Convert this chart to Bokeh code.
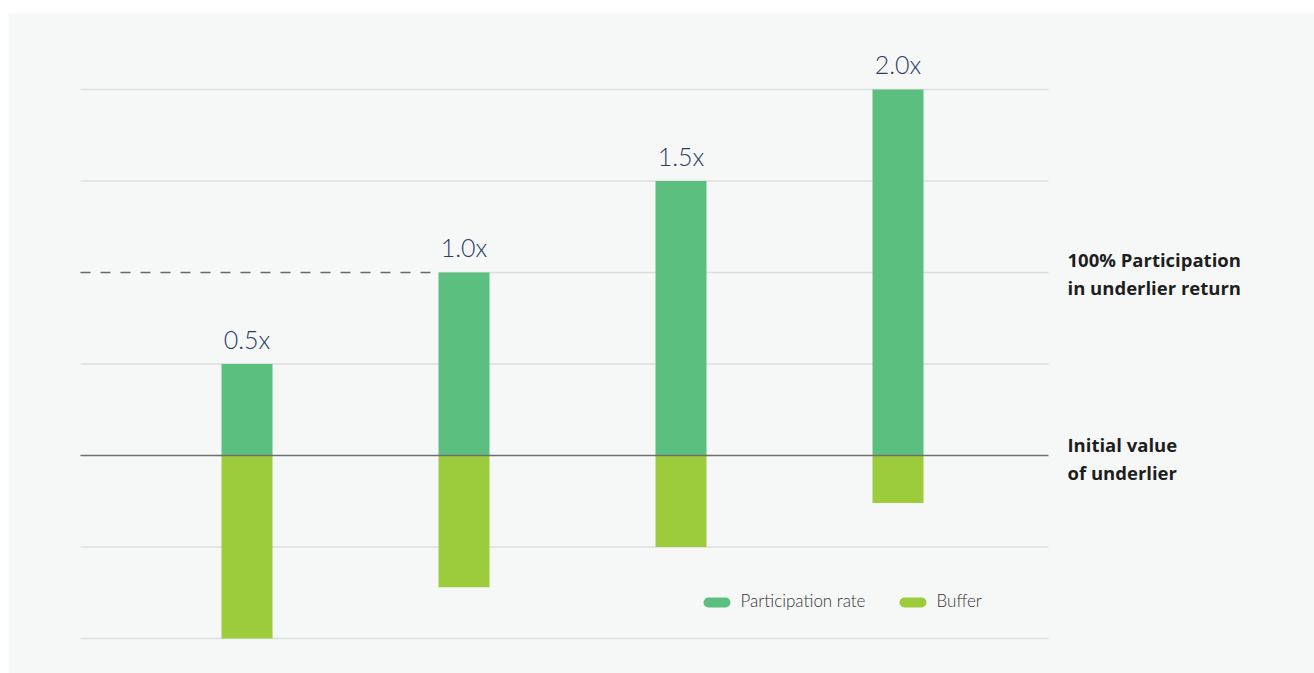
from bokeh.plotting import figure
from bokeh.models import Range1d, ColumnDataSource
from bokeh.core.properties import value
from bokeh.embed import file_html
from bokeh.resources import INLINE

# ---- data ----
labels = ["0.5x", "1.0x", "1.5x", "2.0x"]
participation = [0.5, 1.0, 1.5, 2.0]
buffer = [-1.0, -0.72, -0.5, -0.26]
grid_levels = [-1.0, -0.5, 0.5, 1.5, 2.0]
reference_level = 1.0
legend_names = ["Participation rate", "Buffer"]
note_top = ["100% Participation", "in underlier return"]
note_zero = ["Initial value", "of underlier"]

# ---- style ----
GREEN = "#5bbf7f"
LIME = "#9ccb3b"
BG = "#f6f8f7"
GRID = "#dcdedd"
ZERO = "#707070"
NAVY = "#2f3b66"
LIGHT_FONT = "Lato Light, Lato"
NOTE_FONT = "Open Sans"

x_pos = [i + 1 for i in range(len(labels))]
PX_X = 217.0   # pixels per x unit
PX_Y = 183.0   # pixels per y unit
X1_PX = 246.5  # screen x of first category
W, H = 1314, 673
LEFT_BORDER, TOP_BORDER = 8, 13
x0 = 1 - (X1_PX - LEFT_BORDER) / PX_X
x1 = x0 + (W - LEFT_BORDER) / PX_X
y1 = (455 - TOP_BORDER) / PX_Y
y0 = y1 - (H - TOP_BORDER) / PX_Y

def sx(px):
    return 1 + (px - X1_PX) / PX_X

def sy(py):
    return (455 - py) / PX_Y

p = figure(width=W, height=H, x_range=Range1d(x0, x1), y_range=Range1d(y0, y1),
           output_backend="svg", toolbar_location=None,
           x_axis_type=None, y_axis_type=None,
           min_border_left=LEFT_BORDER, min_border_right=0, min_border_top=TOP_BORDER,
           min_border_bottom=0, background_fill_color=BG,
           border_fill_color="white", outline_line_color=None)
p.grid.visible = False

gx0, gx1 = sx(80), sx(1048)
bar_w = 51 / PX_X

# grid lines
p.segment(x0=[gx0] * len(grid_levels), y0=grid_levels,
          x1=[gx1] * len(grid_levels), y1=grid_levels,
          line_color=GRID, line_width=1.6)
dash_end = x_pos[1] - bar_w / 2
p.segment(x0=[dash_end], y0=[reference_level], x1=[gx1], y1=[reference_level],
          line_color=GRID, line_width=1.6)
p.segment(x0=[gx0], y0=[reference_level], x1=[dash_end], y1=[reference_level],
          line_color="#6a6a6a", line_width=1.5, line_dash="10 10")

src = ColumnDataSource(dict(x=x_pos, part=participation, buf=buffer, lab=labels,
                            ly=[v + 25.5 / PX_Y for v in participation]))
p.vbar(x="x", width=bar_w, bottom=0, top="part", source=src,
       fill_color=GREEN, line_color=None)
p.vbar(x="x", width=bar_w, bottom="buf", top=0, source=src,
       fill_color=LIME, line_color=None)

# zero line
p.segment(x0=[gx0], y0=[0], x1=[gx1], y1=[0], line_color=ZERO, line_width=1.6)

# value labels
p.text(x="x", y="ly", text="lab", source=src, text_align="center",
       text_baseline="alphabetic", text_font=value(LIGHT_FONT), text_font_size="25px",
       text_color=NAVY)

# right notes
nx = sx(1067)
p.text(x=[nx, nx], y=[sy(258.5), sy(286.5)], text=note_top, text_font=value(NOTE_FONT),
       text_font_size="18.5px", text_font_style="bold", text_color="#1e1e1e",
       text_baseline="alphabetic")
p.text(x=[nx, nx], y=[sy(444), sy(472)], text=note_zero, text_font=value(NOTE_FONT),
       text_font_size="18.5px", text_font_style="bold", text_color="#1e1e1e",
       text_baseline="alphabetic")

# legend
ly = sy(602)
p.segment(x0=[sx(708)], y0=[ly], x1=[sx(725)], y1=[ly], line_color=GREEN,
          line_width=10, line_cap="round")
p.segment(x0=[sx(904)], y0=[ly], x1=[sx(921)], y1=[ly], line_color=LIME,
          line_width=10, line_cap="round")
p.text(x=[sx(740), sx(936)], y=[sy(600), sy(600)], text=legend_names,
       text_font=value(LIGHT_FONT), text_font_size="17px", text_color="#333333",
       text_baseline="alphabetic")

open("out.html", "w").write(file_html(p, INLINE))
